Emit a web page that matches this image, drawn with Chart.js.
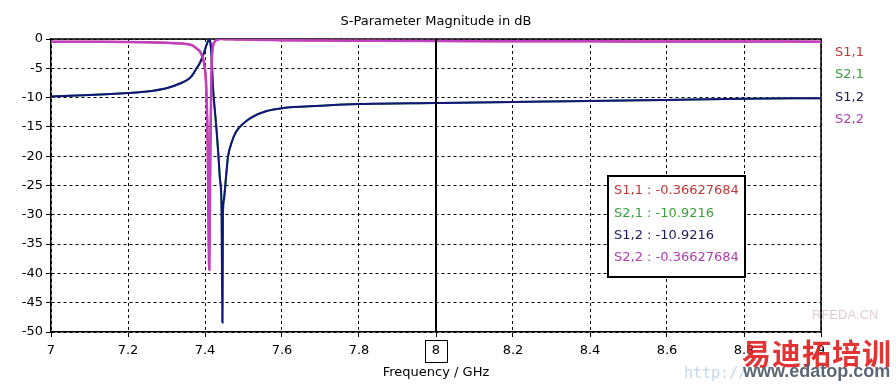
<!DOCTYPE html>
<html>
<head>
<meta charset="utf-8">
<script src="https://cdn.jsdelivr.net/npm/chart.js@4.4.0/dist/chart.umd.min.js"></script>
<style>
  html, body { margin: 0; padding: 0; background: #fff; }
  #wrap { position: relative; width: 896px; height: 385px; overflow: hidden; }
  .wm { position: absolute; white-space: nowrap; pointer-events: none; }
</style>
</head>
<body>
<div id="wrap">
  <canvas id="chart" width="896" height="385"></canvas>
  <div class="wm" style="left:812px;top:307px;font:13px 'Liberation Sans';color:rgba(200,160,175,0.55);">RFEDA.CN</div>
  <div class="wm" style="left:684px;top:364px;font:15px 'DejaVu Sans Mono';color:rgba(120,170,215,0.45);">http://</div>
  <div class="wm" style="left:742px;top:331px;font:bold 29px 'Noto Sans CJK SC';color:rgba(225,35,35,0.92);letter-spacing:1px;">易迪拓培训</div>
  <div class="wm" style="left:743px;top:361px;font:bold 18px 'Liberation Sans';color:rgba(80,95,110,0.95);">www.edatop.com</div>
</div>
<script>
// sweep frequencies (GHz)
const freq = [7.0, 7.1, 7.2, 7.25, 7.3, 7.335, 7.36, 7.37, 7.378, 7.385, 7.39, 7.397,
  7.403, 7.407, 7.411, 7.414, 7.417, 7.421, 7.426, 7.43, 7.435, 7.439, 7.443, 7.4452,
  7.4465, 7.449, 7.452, 7.456, 7.46, 7.47, 7.48, 7.5, 7.52, 7.56, 7.6, 7.7, 7.8, 8.0,
  8.2, 8.4, 8.6, 8.8, 9.0];

// reflection (dB)
const s11 = [-0.45, -0.47, -0.5, -0.55, -0.65, -0.75, -0.95, -1.2, -1.6, -2.0, -2.5, -4.0,
  -8.0, -18, -39.4, -18, -5, -1.2, -0.4, -0.15, -0.05, 0, -0.02, -0.02,
  -0.02, -0.03, -0.03, -0.04, -0.05, -0.06, -0.07, -0.1, -0.12, -0.16, -0.2, -0.26, -0.3, -0.36,
  -0.38, -0.4, -0.42, -0.44, -0.45];
const s22 = [-0.45, -0.47, -0.5, -0.55, -0.65, -0.75, -0.95, -1.2, -1.6, -2.0, -2.5, -4.0,
  -8.0, -18, -39.4, -18, -5, -1.2, -0.4, -0.15, -0.05, 0, -0.02, -0.02,
  -0.02, -0.03, -0.03, -0.04, -0.05, -0.06, -0.07, -0.1, -0.12, -0.16, -0.2, -0.26, -0.3, -0.36,
  -0.38, -0.4, -0.42, -0.44, -0.45];

// transmission (dB)
const s21 = [-9.8, -9.55, -9.2, -8.95, -8.4, -7.6, -6.7, -5.9, -5.0, -4.3, -3.6, -2.4,
  -1.2, -0.5, -0.05, -0.6, -3.0, -8.5, -12.5, -15.5, -20, -24, -28.6, -48.4,
  -30, -27.5, -25.5, -22.5, -20, -17.5, -15.9, -14.4, -13.4, -12.3, -11.8, -11.4, -11.1, -10.92,
  -10.75, -10.6, -10.4, -10.2, -10.1];
const s12 = [-9.8, -9.55, -9.2, -8.95, -8.4, -7.6, -6.7, -5.9, -5.0, -4.3, -3.6, -2.4,
  -1.2, -0.5, -0.05, -0.6, -3.0, -8.5, -12.5, -15.5, -20, -24, -28.6, -48.4,
  -30, -27.5, -25.5, -22.5, -20, -17.5, -15.9, -14.4, -13.4, -12.3, -11.8, -11.4, -11.1, -10.92,
  -10.75, -10.6, -10.4, -10.2, -10.1];

const names = ["S1,1", "S2,1", "S1,2", "S2,2"];
const lineColors = ["#d03030", "#30a030", "#14147e", "#c040c0"];
const textColors = ["#c03838", "#3aa03a", "#1c1c5c", "#b040b0"];

// marker readout at the cursor
const cursorFreq = 8;
const cursorText = ["-0.36627684", "-10.9216", "-10.9216", "-0.36627684"];

const FONT = "'DejaVu Sans'";

function pts(vals) {
  return freq.map((f, i) => ({ x: f, y: vals[i] }));
}

const extras = {
  id: "extras",
  beforeDatasetsDraw(chart) {
    const { ctx, chartArea: a } = chart;
    ctx.save();
    ctx.strokeStyle = "#000";
    ctx.lineWidth = 1.5;
    ctx.beginPath();
    ctx.moveTo(a.left, a.top);
    ctx.lineTo(a.right, a.top);
    ctx.lineTo(a.right, a.bottom);
    ctx.stroke();
    ctx.restore();
  },
  afterDatasetsDraw(chart) {
    const { ctx, chartArea: a } = chart;
    const cx = Math.round(chart.scales.x.getPixelForValue(cursorFreq));
    ctx.save();
    // cursor line
    ctx.strokeStyle = "#000";
    ctx.lineWidth = 2;
    ctx.beginPath();
    ctx.moveTo(cx, a.top);
    ctx.lineTo(cx, a.bottom);
    ctx.stroke();
    // box round the cursor tick label
    ctx.lineWidth = 1;
    ctx.strokeRect(cx - 10.5, a.bottom + 8.5, 22, 22);

    // readout box
    ctx.fillStyle = "#fff";
    ctx.fillRect(608, 176, 137, 101);
    ctx.lineWidth = 2;
    ctx.strokeRect(608, 176, 137, 101);
    ctx.font = "13px " + FONT;
    ctx.textBaseline = "middle";
    ctx.textAlign = "left";
    names.forEach((n, i) => {
      ctx.fillStyle = textColors[i];
      ctx.fillText(n + " : " + cursorText[i], 614, 191 + i * 22.2);
    });

    // legend on the right
    const ly = [53, 75, 98, 120];
    names.forEach((n, i) => {
      ctx.fillStyle = textColors[i];
      ctx.fillText(n, a.right + 14, ly[i]);
    });
    ctx.restore();
  }
};

new Chart(document.getElementById("chart"), {
  type: "line",
  data: {
    datasets: names.map((n, i) => ({
      label: n,
      data: pts([s11, s21, s12, s22][i]),
      borderColor: lineColors[i],
      borderWidth: i === 3 ? 2.5 : 2,
      pointRadius: 0,
      cubicInterpolationMode: "monotone",
      order: 3 - i
    }))
  },
  options: {
    responsive: false,
    animation: false,
    events: [],
    layout: { padding: { left: 0, right: 75, top: 0, bottom: 0 } },
    plugins: {
      legend: { display: false },
      tooltip: { enabled: false },
      title: {
        display: true,
        text: "S-Parameter Magnitude in dB",
        fullSize: false,
        color: "#000",
        font: { family: FONT, size: 13, weight: "normal", lineHeight: 1.2 },
        padding: { top: 13.4, bottom: 10 }
      }
    },
    scales: {
      x: {
        type: "linear",
        min: 7,
        max: 9,
        afterFit(s) { s.height = 53; },
        ticks: {
          stepSize: 0.2,
          autoSkip: false,
          maxRotation: 0,
          padding: 6,
          color: "#000",
          font: { family: FONT, size: 13 },
          callback: v => String(Math.round(v * 10) / 10)
        },
        grid: { color: "#000", lineWidth: 1, tickLength: 5, tickColor: "#000", tickBorderDash: [] },
        border: { display: true, color: "#000", width: 1.5, dash: [3, 3] },
        title: {
          display: true,
          text: "Frequency / GHz",
          color: "#000",
          font: { family: FONT, size: 13, lineHeight: 1.2 },
          padding: { top: 0, bottom: 5 }
        }
      },
      y: {
        min: -50,
        max: 0,
        afterFit(s) { s.width = 51; },
        ticks: {
          stepSize: 5,
          padding: 3,
          color: "#000",
          font: { family: FONT, size: 13 },
          callback: v => String(v)
        },
        grid: { color: "#000", lineWidth: 1, tickLength: 5, tickColor: "#000", tickBorderDash: [] },
        border: { display: true, color: "#000", width: 1.5, dash: [3, 3] }
      }
    }
  },
  plugins: [extras]
});
</script>
</body>
</html>
